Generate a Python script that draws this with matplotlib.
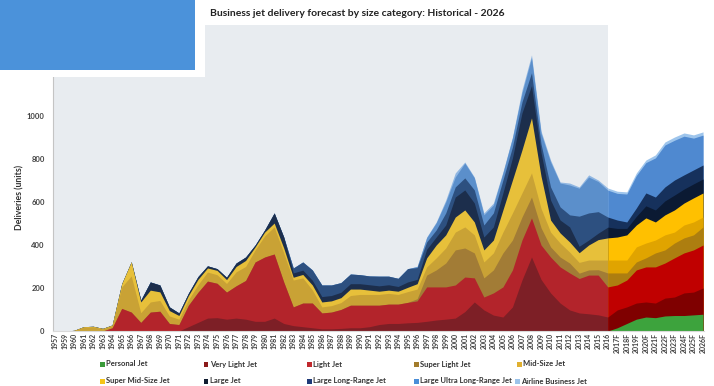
import numpy as np
import matplotlib
matplotlib.use("Agg")
import matplotlib.pyplot as plt
from matplotlib.patches import Rectangle

plt.rcParams["font.family"] = ["Lato", "DejaVu Sans"]

# Category axis: historical years followed by forecast years
years = ["1957"] + [str(y) for y in range(1959, 2017)] + [f"{y}F" for y in range(2017, 2027)]

# Deliveries (units) per size category, one value per year label
personal_jet = [0] * 59 + [15, 35, 55, 65, 62, 70, 72, 72, 75, 78]
very_light_jet = [0, 0, 0, 0, 0, 0, 0, 0, 0, 0, 0, 0, 0, 0, 20, 40, 60, 62, 55, 60,
                  55, 45, 45, 60, 35, 25, 20, 15, 10, 10, 12, 15, 15, 20, 30, 35, 35, 38, 40, 45,
                  51, 55, 60, 90, 135, 98, 74, 65, 112, 237, 344, 240, 177, 130, 98, 84, 80, 75, 65,
                  83, 77, 75, 70, 68, 83, 86, 105, 106, 122]
light_jet = [0, 0, 0, 0, 0, 0, 15, 105, 88, 40, 88, 92, 35, 30, 100, 140, 172, 160, 126, 150,
             180, 276, 299, 298, 193, 87, 110, 115, 74, 78, 88, 105, 105, 100, 90, 90, 90, 95, 100, 160,
             154, 150, 154, 161, 112, 60, 103, 140, 172, 186, 182, 160, 167, 168, 172, 160, 180, 185, 140,
             116, 125, 154, 163, 168, 163, 182, 186, 196, 200]
super_light_jet = [0] * 38 + [10, 55, 79, 111, 163, 135, 116, 89, 107, 158, 139, 107, 97, 80, 47, 46,
                              46, 25, 24, 25, 65,
                              56, 33, 37, 42, 65, 61, 69, 70, 70, 84]
mid_size_jet = [0, 0, 3, 18, 20, 10, 10, 100, 168, 45, 47, 50, 35, 25, 25, 35, 42, 40, 40, 65,
                65, 56, 98, 126, 135, 125, 117, 61, 28, 30, 32, 45, 50, 50, 50, 50, 45, 50, 45, 38,
                56, 70, 83, 98, 84, 74, 79, 97, 126, 112, 112, 90, 69, 65, 51, 50, 46, 45, 60,
                60, 60, 70, 69, 60, 70, 51, 60, 60, 46]
super_mid_size_jet = [0, 0, 0, 2, 2, 2, 3, 15, 66, 50, 55, 40, 25, 17, 20, 25, 19, 20, 18, 25,
                      28, 14, 18, 18, 23, 13, 16, 23, 23, 22, 23, 30, 25, 20, 15, 15, 15, 20, 25, 42,
                      60, 61, 70, 79, 60, 56, 60, 103, 153, 200, 256, 150, 56, 47, 47, 45, 70, 95, 103,
                      107, 117, 102, 117, 84, 93, 103, 102, 112, 112]
large_jet = [0, 0, 0, 0, 0, 0, 0, 0, 0, 9, 38, 32, 17, 12, 11, 13, 10, 8, 11, 16,
             16, 9, 10, 47, 51, 20, 20, 22, 25, 25, 25, 25, 25, 25, 25, 25, 22, 25, 20, 40,
             37, 46, 93, 93, 88, 60, 61, 79, 103, 172, 150, 110, 93, 60, 70, 30, 23, 30, 50,
             40, 30, 40, 56, 56, 65, 69, 65, 65, 65]
large_long_range_jet = [0] * 25 + [23, 38, 48, 54, 49, 45, 45, 42, 41, 45, 40, 38, 62, 55, 34,
                                   33, 56, 47, 56, 61, 56, 65, 60, 51, 51, 60, 40, 61, 61, 56, 140, 126, 100, 47,
                                   39, 30, 39, 60, 60, 65, 70, 66, 65, 65]
large_ultra_long_range_jet = [0] * 38 + [5, 20, 33, 51, 46, 69, 56, 47, 37, 33, 42, 42, 70, 50, 116, 111,
                                         139, 130, 167, 140, 125,
                                         124, 130, 151, 141, 182, 195, 185, 180, 148, 139]
airline_business_jet = [0] * 39 + [3, 4, 9, 19, 5, 4, 9, 9, 5, 4, 14, 13, 10, 9, 5, 9, 6, 10, 7, 10,
                                   10, 10, 12, 12, 14, 14, 15, 15, 15, 15]

series = [personal_jet, very_light_jet, light_jet, super_light_jet, mid_size_jet,
          super_mid_size_jet, large_jet, large_long_range_jet,
          large_ultra_long_range_jet, airline_business_jet]
names = ["Personal Jet", "Very Light Jet", "Light Jet", "Super Light Jet", "Mid-Size Jet",
         "Super Mid-Size Jet", "Large Jet", "Large Long-Range Jet",
         "Large Ultra Long-Range Jet", "Airline Business Jet"]

hist_colors = ["#4a9a4a", "#7d1f26", "#b3242b", "#a27c36", "#c9a235",
               "#e7c03a", "#1c2e4c", "#2d5080", "#5b8fcb", "#8fb6e2"]
fcst_colors = ["#3da33d", "#7f0000", "#c00000", "#ad7e10", "#e0a400",
               "#ffc000", "#0b1a33", "#16315c", "#4f89d0", "#9ec5ec"]
legend_colors = ["#3a9b3a", "#8b1a1a", "#c0282d", "#a27c2c", "#e0b030",
                 "#f5c518", "#101c30", "#1f3a78", "#4a8ed8", "#9cc3ea"]

W, H = 714, 386
fig = plt.figure(figsize=(W / 100, H / 100), dpi=100)
ax = fig.add_axes([53 / W, 1 - 331 / H, (704 - 53) / W, (331 - 25) / H])

x = np.arange(len(years))
split = years.index("2016")
cum = np.cumsum(np.array(series, dtype=float), axis=0)

ax.set_facecolor("white")
ax.axvspan(-0.21, split, color="#e8ecf0", lw=0, zorder=0)

# Stacked areas: each layer filled from the baseline to its cumulative top,
# drawn top-down so lower layers cover the ones above them.
hist_x = x[:split + 1]
fcst_x = x[split:]
for k in range(len(series) - 1, -1, -1):
    ax.fill_between(hist_x, 0, cum[k, :split + 1], color=hist_colors[k], lw=0, zorder=2)
    ax.fill_between(fcst_x, 0, cum[k, split:], color=fcst_colors[k], lw=0, zorder=2)

ax.set_xlim(-0.21, 68.1)
ax.set_ylim(0, 1423)
ax.set_xticks(x)
ax.set_xticklabels(years, rotation=90, fontsize=5, fontweight="bold", color="#404040")
ax.set_yticks([0, 200, 400, 600, 800, 1000])
ax.set_yticklabels(["0", "200", "400", "600", "800", "1000"], fontsize=5.5,
                   fontweight="bold", color="#404040")
ax.tick_params(axis="x", length=0, pad=1.5)
ax.tick_params(axis="y", length=0, pad=6)
for side in ["top", "right"]:
    ax.spines[side].set_visible(False)
ax.spines["left"].set_color("#c4c4c4")
ax.spines["left"].set_linewidth(0.8)
ax.spines["bottom"].set_color("#d9d9d9")
ax.spines["bottom"].set_linewidth(0.8)

fig.text(20 / W, 1 - 197 / H, "Deliveries (units)", rotation=90, fontsize=6.3,
         fontweight="bold", color="#333333", ha="center", va="center")
fig.text(210 / W, 1 - 14 / H,
         "Business jet delivery forecast by size category: Historical - 2026",
         fontsize=7.5, fontweight="bold", color="#222222", ha="left", va="center")

# Legend laid out in two rows
legend_pos = [(102, 364), (206, 364), (309, 364), (416, 364), (519, 364),
              (102, 381), (206, 381), (309, 381), (416, 381), (517, 381)]
for (px, py), name, col in zip(legend_pos, names, legend_colors):
    fig.add_artist(Rectangle(((px - 2.5) / W, 1 - (py + 2.5) / H), 5 / W, 5 / H,
                             transform=fig.transFigure, facecolor=col, edgecolor="none"))
    fig.text((px + 4) / W, 1 - py / H, name, fontsize=5.5, fontweight="bold",
             color="#333333", ha="left", va="center")

# Header panel in the top-left corner
fig.add_artist(Rectangle((0, 1 - 77 / H), 205 / W, 77 / H, transform=fig.transFigure,
                         facecolor="white", edgecolor="none", zorder=5))
fig.add_artist(Rectangle((0, 1 - 70 / H), 195 / W, 70 / H, transform=fig.transFigure,
                         facecolor="#4b92da", edgecolor="none", zorder=6))

fig.savefig("out.png", dpi=100)
